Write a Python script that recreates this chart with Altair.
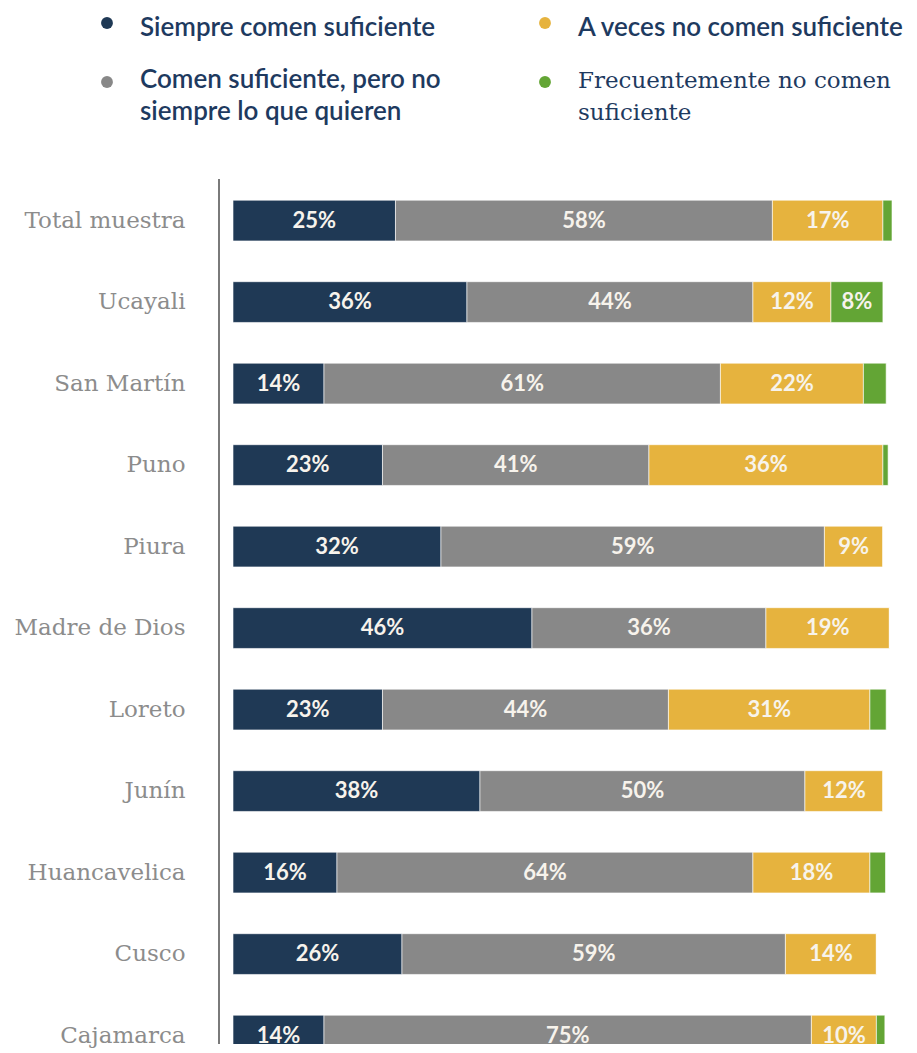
import altair as alt
import pandas as pd

regions = ["Total muestra", "Ucayali", "San Martín", "Puno", "Piura", "Madre de Dios",
           "Loreto", "Junín", "Huancavelica", "Cusco", "Cajamarca"]
series = ["Siempre comen suficiente",
          "Comen suficiente, pero no siempre lo que quieren",
          "A veces no comen suficiente",
          "Frecuentemente no comen suficiente"]
siempre = [25, 36, 14, 23, 32, 46, 23, 38, 16, 26, 14]
comen = [58, 44, 61, 41, 59, 36, 44, 50, 64, 59, 75]
a_veces = [17, 12, 22, 36, 9, 19, 31, 12, 18, 14, 10]
frecuente = [1.4, 8, 3.5, 0.8, 0, 0, 2.5, 0, 2.4, 0, 1.3]
colors = ["#1f3955", "#888888", "#e6b33e", "#63a535"]

legend_text = ["Siempre comen suficiente",
               "Comen suficiente, pero no|siempre lo que quieren",
               "A veces no comen suficiente",
               "Frecuentemente no comen|suficiente"]
legend_col = [0, 0, 1, 1]
legend_row = [0, 1, 0, 1]

rows = []
for i, r in enumerate(regions):
    for k, vals in enumerate([siempre, comen, a_veces, frecuente]):
        rows.append({"region": r, "series": series[k], "order": k, "value": vals[i]})
df = pd.DataFrame(rows)
xmax = max(sum(v) for v in zip(siempre, comen, a_veces, frecuente))

leg_df = pd.DataFrame({"series": series, "text": legend_text,
                       "col": legend_col, "row": legend_row})

color = alt.Color("series:N", scale=alt.Scale(domain=series, range=colors), legend=None)

STEP = 81.5
P_IN, P_OUT = 0.5, 0.26
FULL = STEP * (len(regions) - P_IN + 2 * P_OUT)  # band range; the last row runs past the page
PLOT_H = 865

base = alt.Chart(df).transform_stack(
    stack="value", groupby=["region"], as_=["x0", "x1"],
    sort=[alt.SortField("order", order="ascending")]
).transform_calculate(
    mid="(datum.x0 + datum.x1) / 2",
    label="format(datum.value, '.0f') + '%'"
)

xscale = alt.Scale(domain=[0, xmax], nice=False, zero=True)
yenc = alt.Y("region:N", sort=regions,
             scale=alt.Scale(paddingInner=P_IN, paddingOuter=P_OUT, range=[0, FULL]),
             axis=alt.Axis(title=None, ticks=False, labelFont="DejaVu Serif",
                           labelFontSize=23, labelColor="#8c8c8c", labelPadding=48,
                           domain=False, grid=False, labelLimit=300))

bars = base.mark_bar(stroke="white", strokeWidth=1, strokeOpacity=0.6, clip=True).encode(
    x=alt.X("x0:Q", scale=xscale, axis=None),
    x2="x1:Q",
    y=yenc,
    color=color,
)
labels = base.transform_filter("datum.value >= 5").mark_text(
    font="Lato", fontSize=22, fontWeight="bold", color="#f7f3ec", clip=True
).encode(
    x=alt.X("mid:Q", scale=xscale, axis=None),
    y=alt.Y("region:N", sort=regions),
    text="label:N",
)
axis_line = alt.Chart(leg_df).mark_rule(color="#7a7a7a", strokeWidth=2).encode(
    x=alt.value(-14), y=alt.value(0), y2=alt.value(PLOT_H)
)
main = alt.layer(bars, labels, axis_line).properties(width=659, height=PLOT_H)

# legend panel (its origin lines up with the bar panel's plot origin)
lx = alt.X("col:Q", scale=alt.Scale(domain=[0, 1], range=[-126, 312]), axis=None)
ly_pts = alt.Y("row:Q", scale=alt.Scale(domain=[0, 1], range=[9, 68]), axis=None)
ly_txt = alt.Y("row:Q", scale=alt.Scale(domain=[0, 1], range=[22, 74]), axis=None)
leg_pts = alt.Chart(leg_df).mark_circle(size=140, opacity=1).encode(x=lx, y=ly_pts, color=color)
leg_txt = alt.Chart(leg_df).transform_filter(
    alt.FieldOneOfPredicate(field="series", oneOf=series[:3])
).mark_text(
    align="left", baseline="alphabetic", dx=33, lineBreak="|", lineHeight=32,
    font="Lato", fontSize=26, fontWeight=600, color="#1e3a5f"
).encode(x=lx, y=ly_txt, text="text:N")
leg_txt2 = alt.Chart(leg_df).transform_filter(
    alt.FieldEqualPredicate(field="series", equal=series[3])
).mark_text(
    align="left", baseline="alphabetic", dx=33, lineBreak="|", lineHeight=32,
    font="DejaVu Serif", fontSize=23, color="#1e3a5f"
).encode(x=lx, y=ly_txt, text="text:N")
legend = alt.layer(leg_pts, leg_txt, leg_txt2).resolve_scale(y="independent").properties(
    width=670, height=142)

chart = alt.vconcat(legend, main, spacing=20).configure_view(
    stroke="transparent"
).properties(padding={"left": 5, "top": 5, "right": 0, "bottom": 0})

chart.save("out.html", embed_options={"renderer": "svg", "actions": False})
